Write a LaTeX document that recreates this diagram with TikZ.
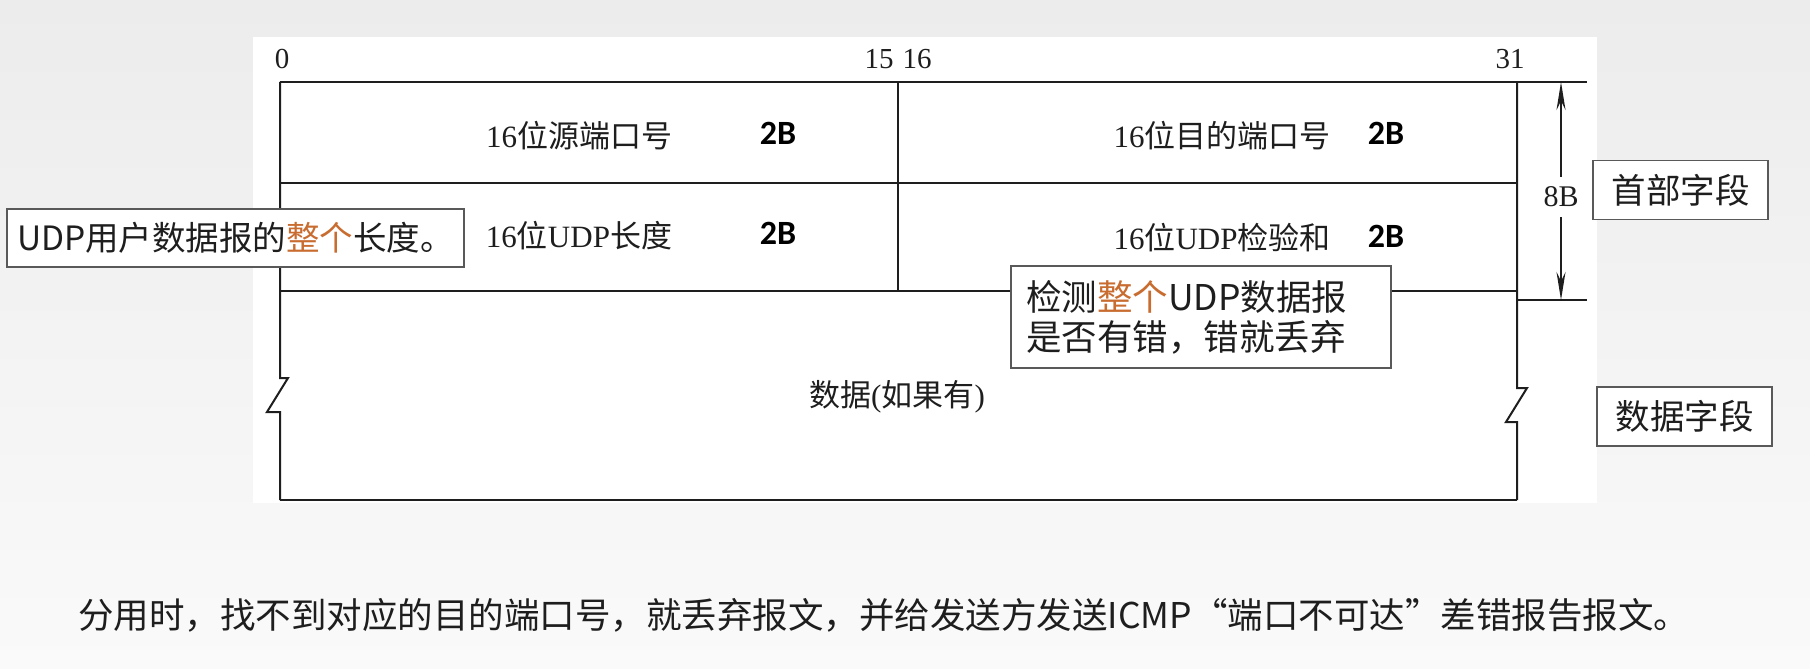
\documentclass[tikz,border=0pt]{standalone}
\usepackage{fontspec}
\setmainfont{Liberation Serif}
\newfontfamily\cjk{Noto Sans CJK SC}
\newfontfamily\calfont{Carlito}
\usetikzlibrary{arrows.meta}
\definecolor{hl}{RGB}{200,108,48}
\definecolor{bgtop}{RGB}{236,236,236}
\definecolor{bgbot}{RGB}{250,250,250}
\definecolor{ink}{RGB}{30,30,30}
\begin{document}
\begin{tikzpicture}[x=1pt,y=-1pt,
  frame/.style={line width=2pt, draw=ink, line join=miter},
  bits/.style={inner sep=0pt, text=ink, font=\fontsize{29}{32}\selectfont},
  lbl/.style={inner sep=0pt, text=ink, font=\fontsize{31}{36}\selectfont},
  twob/.style={inner sep=0pt, text=black, font=\calfont\bfseries\fontsize{34}{40}\selectfont},
  callout/.style={draw=black!65, line width=1.5pt, fill=white, text=ink, inner sep=0pt},
  tag/.style={draw=black!65, line width=1.5pt, fill=white, text=ink, inner sep=0pt,
    minimum width=175pt, minimum height=59pt, font=\cjk\fontsize{34.5}{40}\selectfont},
  dimarrow/.style={line width=2pt, draw=ink, -{Stealth[length=28pt,width=9pt]}}
]
\useasboundingbox (0,0) rectangle (1810,669);
\shade[top color=bgtop, bottom color=bgbot] (0,0) rectangle (1810,669);
\fill[white] (253,37) rectangle (1597,503);

% corner coordinates
\coordinate (tl) at (280,82);
\coordinate (tr) at (1517,82);
\coordinate (tx) at (1587,82);
\coordinate (ml) at (280,183);
\coordinate (mr) at (1517,183);
\coordinate (hl) at (280,291);
\coordinate (hr) at (1517,291);
\coordinate (dt) at (898,82);
\coordinate (db) at (898,291);
\coordinate (bl) at (280,500);
\coordinate (br) at (1517,500);
\coordinate (sr) at (1517,300);
\coordinate (sx) at (1587,300);
\coordinate (at) at (1561,82);
\coordinate (ab) at (1561,300);

% frame
\draw[frame] (tl) -- (tx);
\draw[frame] (ml) -- (mr);
\draw[frame] (hl) -- (hr);
\draw[frame] (dt) -- (db);
\draw[frame] (bl) -- (br);
\draw[frame] (sr) -- (sx);
\draw[frame] (tl) -- (280,378) -- (288,378) -- (267,412) -- (280,412) -- (bl);
\draw[frame] (tr) -- (1517,388) -- (1527,388) -- (1506,422) -- (1517,422) -- (br);

% bit numbers
\node[bits] (b0) at (282,59) {0};
\node[bits] (b15) at (879,59) {15};
\node[bits] (b16) at (917,59) {16};
\node[bits] (b31) at (1510,59) {31};

% fields
\node[lbl] (src) at (579,136) {16{\cjk 位源端口号}};
\node[twob] (src2b) at (778,133) {2B};
\node[lbl] (dst) at (1222,136) {16{\cjk 位目的端口号}};
\node[twob] (dst2b) at (1386,133) {2B};
\node[lbl] (len) at (579,236) {16{\cjk 位}UDP{\cjk 长度}};
\node[twob] (len2b) at (778,233) {2B};
\node[lbl] (chk) at (1222,238) {16{\cjk 位}UDP{\cjk 检验和}};
\node[twob] (chk2b) at (1386,236) {2B};
\node[lbl] (data) at (897,397) {{\cjk 数据}({\cjk 如果有})};

% 8B dimension
\node[bits, minimum height=40pt, font=\fontsize{30}{32}\selectfont] (eightB) at (1561,197) {8B};
\draw[dimarrow] (eightB.north) -- (at);
\draw[dimarrow] (eightB.south) -- (ab);

% side tags
\node[tag] (head) at (1680.5,190) {首部字段};
\node[tag] (datatag) at (1684.5,416.5) {数据字段};

% callouts
\node[callout, minimum width=457pt, minimum height=58pt,
  font=\cjk\fontsize{33.5}{40}\selectfont] (lennote) at (235.5,238)
  {UDP用户数据报的\textcolor{hl}{整个}长度。};
\node[callout, minimum width=380pt, minimum height=102pt, text width=350pt,
  inner xsep=15pt, align=left, font=\cjk\fontsize{35.5}{40}\selectfont] (chknote) at (1201,317)
  {检测\textcolor{hl}{整个}UDP数据报\\是否有错，错就丢弃};

% bottom sentence
\node[inner sep=0pt, text=ink, font=\cjk\fontsize{35.5}{40}\selectfont, anchor=west] (note) at (78,615)
  {分用时，找不到对应的目的端口号，就丢弃报文，并给发送方发送ICMP“端口不可达”差错报告报文。};
\end{tikzpicture}
\end{document}
